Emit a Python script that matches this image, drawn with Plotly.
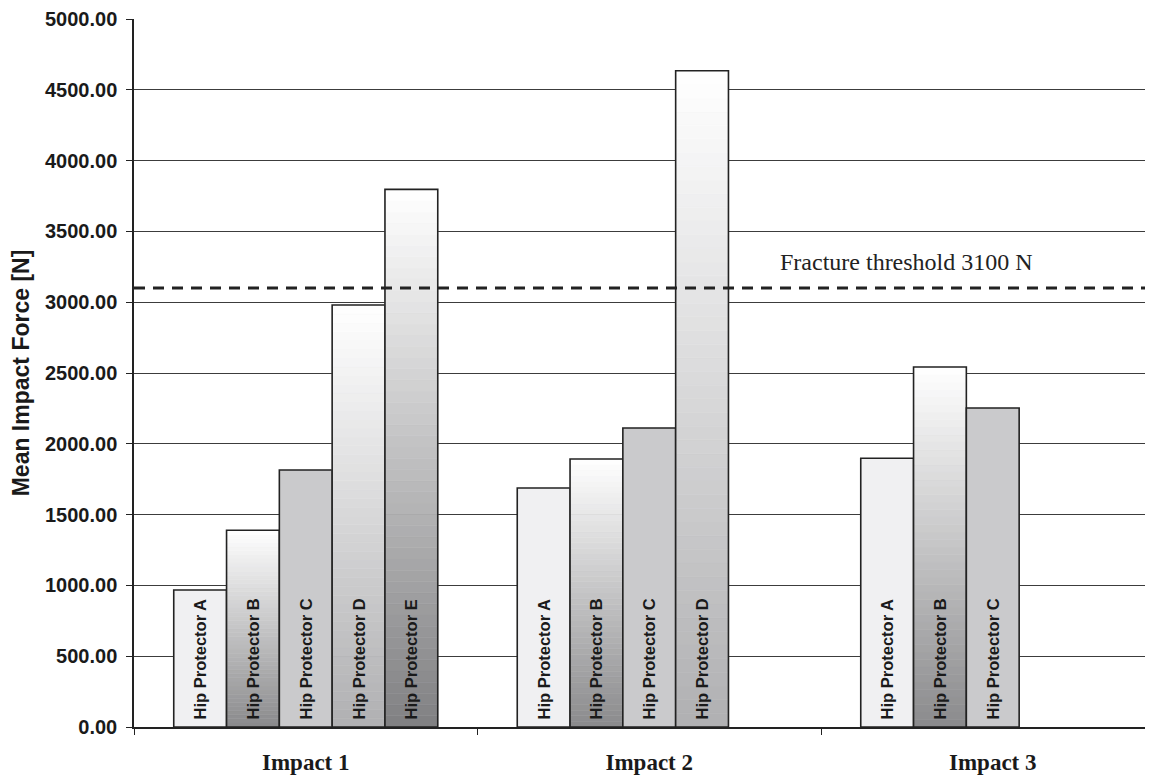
import plotly.graph_objects as go

# ---------------- data ----------------
impacts = ["Impact 1", "Impact 2", "Impact 3"]
series_names = ["Hip Protector A", "Hip Protector B", "Hip Protector C",
                "Hip Protector D", "Hip Protector E"]
protector_a = [967, 1688, 1898]
protector_b = [1390, 1893, 2542]
protector_c = [1815, 2112, 2253]
protector_d = [2980, 4635, None]
protector_e = [3797, None, None]
threshold_value = 3100
threshold_label = "Fracture threshold 3100 N"
y_tick_values = [0, 500, 1000, 1500, 2000, 2500, 3000, 3500, 4000, 4500, 5000]

series_values = [protector_a, protector_b, protector_c, protector_d, protector_e]

# ---------------- styles ----------------
# (top colour, bottom colour); equal colours -> flat fill
fill_styles = [
    ((240, 240, 242), (240, 240, 242)),
    ((255, 255, 255), (138, 138, 140)),
    ((202, 202, 204), (202, 202, 204)),
    ((255, 255, 255), (176, 176, 178)),
    ((255, 255, 255), (128, 128, 130)),
]
N_SEG = 48
OUTLINE = "#222222"
SANS = "Liberation Sans, Arial, sans-serif"
SERIF = "Liberation Serif, Times New Roman, serif"


def rgb(c):
    return "rgb(%d,%d,%d)" % tuple(int(round(v)) for v in c)


fig = go.Figure()

for name, vals, (top, bot) in zip(series_names, series_values, fill_styles):
    if top == bot:
        fig.add_trace(go.Bar(
            x=impacts, y=vals, offsetgroup=name, name=name,
            marker=dict(color=rgb(top), line=dict(width=0)),
            showlegend=False, hoverinfo="skip"))
    else:
        for k in range(N_SEG):
            f = (k + 0.5) / N_SEG  # 0 bottom -> 1 top
            col = tuple(bot[i] + (top[i] - bot[i]) * f for i in range(3))
            seg_h = [None if v is None else v / N_SEG for v in vals]
            seg_b = [None if v is None else v * k / N_SEG for v in vals]
            fig.add_trace(go.Bar(
                x=impacts, y=seg_h, base=seg_b, offsetgroup=name, name=name,
                marker=dict(color=rgb(col), line=dict(width=0.6, color=rgb(col))),
                showlegend=False, hoverinfo="skip"))
    # outline + label
    fig.add_trace(go.Bar(
        x=impacts, y=vals, offsetgroup=name, name=name,
        marker=dict(color="rgba(0,0,0,0)", line=dict(width=1.6, color=OUTLINE)),
        text=[None if v is None else "\u00a0" + name for v in vals],
        textposition="inside", insidetextanchor="start", textangle=-90,
        insidetextfont=dict(family=SANS, size=16.5, color="#1a1a1a", weight="bold"),
        constraintext="none",
        showlegend=False, hovertemplate=name + ": %{y:.2f}<extra></extra>"))

fig.add_hline(y=threshold_value, line=dict(color="#222222", width=3, dash="11px,8px"))
fig.add_annotation(
    text=threshold_label, xref="paper", yref="y", x=0.758, y=threshold_value,
    xanchor="center", yanchor="bottom", yshift=11, showarrow=False,
    font=dict(family=SERIF, size=24, color="#222222"))

fig.update_layout(
    width=1153, height=783,
    margin=dict(l=126, r=8, t=11, b=64, autoexpand=False),
    paper_bgcolor="white", plot_bgcolor="white",
    barmode="group", bargap=0.2314, bargroupgap=0,
    showlegend=False,
)
fig.update_xaxes(
    range=[-0.5, 2.4665], showline=True, linecolor=OUTLINE, linewidth=1.5,
    ticks="outside", tickson="boundaries", ticklen=6, tickcolor=OUTLINE,
    ticklabelstandoff=14, showgrid=False,
    tickfont=dict(family=SERIF, size=23, color="#1a1a1a", weight="bold"),
)
fig.update_yaxes(
    range=[0, 5000], tickvals=y_tick_values, tickformat=".2f",
    showline=True, linecolor=OUTLINE, linewidth=1.5,
    ticks="outside", ticklen=6, tickcolor=OUTLINE, ticklabelstandoff=5,
    showgrid=True, gridcolor="#3c3c3c", gridwidth=1, zeroline=False,
    tickfont=dict(family=SANS, size=20, color="#1a1a1a", weight="bold"),
    title=dict(text="Mean Impact Force [N]", standoff=13,
               font=dict(family=SANS, size=23, color="#1a1a1a", weight="bold")),
)

fig.write_html("out.html")
